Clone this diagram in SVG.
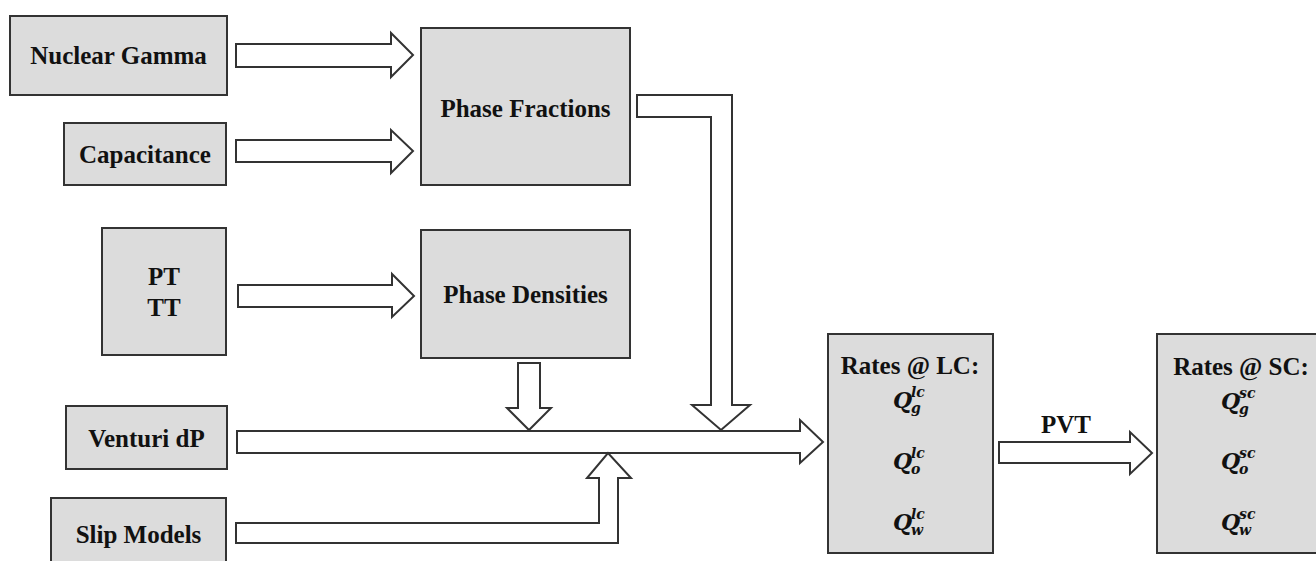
<svg xmlns="http://www.w3.org/2000/svg" width="1316" height="561" viewBox="0 0 1316 561">
  <style>
    .box { fill: #dcdcdc; stroke: #333333; stroke-width: 2; }
    .arrow { fill: #ffffff; stroke: #333333; stroke-width: 2; stroke-linejoin: miter; }
    .lbl { font-family: "Liberation Serif", "Times New Roman", serif; font-weight: bold; font-size: 25px; fill: #111111; text-anchor: middle; }
    .q { font-family: "DejaVu Serif", "Liberation Serif", serif; font-weight: bold; font-style: italic; font-size: 22px; fill: #111111; }
    .qs { font-family: "DejaVu Serif", "Liberation Serif", serif; font-weight: bold; font-style: italic; font-size: 14px; fill: #111111; }
  </style>
  <rect width="1316" height="561" fill="#ffffff"/>

  <!-- block arrows -->
  <g id="connectors">
    <polygon class="arrow" points="236,44 391,44 391,33 413,55 391,77 391,67 236,67"/>
    <polygon class="arrow" points="236,140 391,140 391,130 413,151 391,173 391,162 236,162"/>
    <polygon class="arrow" points="238,285 392,285 392,274 414,296 392,317 392,307 238,307"/>
    <polygon class="arrow" points="237,431 800,431 800,420 823,442 800,463 800,453 237,453"/>
    <polygon class="arrow" points="637,95 732,95 732,405 750,405 721,430 692,405 711,405 711,117 637,117"/>
    <polygon class="arrow" points="518,363 540,363 540,408 551,408 529,430 507,408 518,408"/>
    <polygon class="arrow" points="236,523 599,523 599,478 587,478 608,453 631,478 618,478 618,543 236,543"/>
    <polygon class="arrow" points="999,442 1130,442 1130,432 1152,453 1130,474 1130,463 999,463"/>
    <text class="lbl" x="1066" y="433" font-size="24">PVT</text>
  </g>

  <g id="nuclear-gamma">
    <rect class="box" x="10" y="16" width="217" height="79"/>
    <text class="lbl" x="118.5" y="64">Nuclear Gamma</text>
  </g>
  <g id="capacitance">
    <rect class="box" x="64" y="123" width="162" height="62"/>
    <text class="lbl" x="145" y="163">Capacitance</text>
  </g>
  <g id="pt-tt">
    <rect class="box" x="102" y="228" width="124" height="127"/>
    <text class="lbl" x="164" y="285">PT</text>
    <text class="lbl" x="164" y="316">TT</text>
  </g>
  <g id="venturi-dp">
    <rect class="box" x="66" y="406" width="161" height="63"/>
    <text class="lbl" x="146.5" y="447">Venturi dP</text>
  </g>
  <g id="slip-models">
    <rect class="box" x="51" y="498" width="175" height="75"/>
    <text class="lbl" x="138.5" y="543">Slip Models</text>
  </g>
  <g id="phase-fractions">
    <rect class="box" x="421" y="28" width="209" height="157"/>
    <text class="lbl" x="525.5" y="117">Phase Fractions</text>
  </g>
  <g id="phase-densities">
    <rect class="box" x="421" y="230" width="209" height="128"/>
    <text class="lbl" x="525.5" y="303">Phase Densities</text>
  </g>

  <g id="rates-lc">
    <rect class="box" x="828" y="334" width="165" height="219"/>
    <text class="lbl" x="910" y="374">Rates @ LC:</text>
    <text class="q" x="893" y="408">Q</text>
    <text class="qs" x="911" y="397">lc</text>
    <text class="qs" x="911" y="413">g</text>
    <text class="q" x="893" y="469">Q</text>
    <text class="qs" x="911" y="458">lc</text>
    <text class="qs" x="911" y="474">o</text>
    <text class="q" x="893" y="530">Q</text>
    <text class="qs" x="911" y="519">lc</text>
    <text class="qs" x="911" y="535">w</text>
  </g>

  <g id="rates-sc">
    <rect class="box" x="1157" y="334" width="180" height="219"/>
    <text class="lbl" x="1241" y="375">Rates @ SC:</text>
    <text class="q" x="1221" y="409">Q</text>
    <text class="qs" x="1239" y="398">sc</text>
    <text class="qs" x="1239" y="414">g</text>
    <text class="q" x="1221" y="469">Q</text>
    <text class="qs" x="1239" y="458">sc</text>
    <text class="qs" x="1239" y="474">o</text>
    <text class="q" x="1221" y="530">Q</text>
    <text class="qs" x="1239" y="519">sc</text>
    <text class="qs" x="1239" y="535">w</text>
  </g>
</svg>
